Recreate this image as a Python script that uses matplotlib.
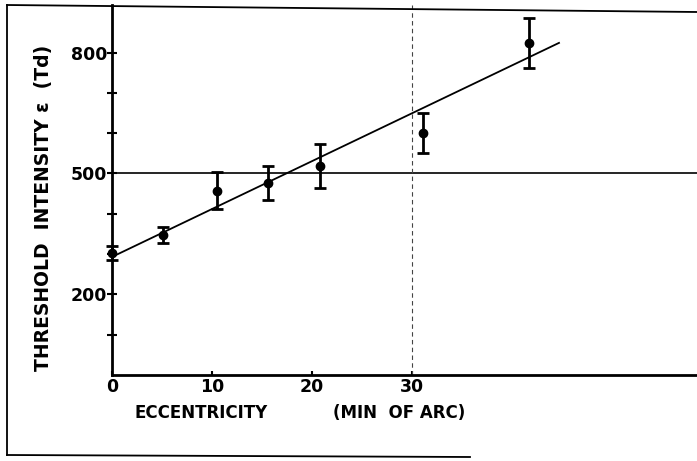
import matplotlib.pyplot as plt
import matplotlib.lines as mlines

plt.rcParams['font.family'] = ['DejaVu Sans']
plt.rcParams['font.weight'] = 'bold'

# data
ecc = [0, 5.1, 10.5, 15.6, 20.8, 31.1, 41.7]
thr = [303, 347, 457, 476, 519, 600, 824]
err = [18, 20, 46, 42, 55, 49, 62]
fit_x = [0, 44.7]
fit_y = [293, 824]

yticks = [100, 200, 300, 400, 500, 600, 700, 800]
ylabels = ['', '200', '', '', '500', '', '', '800']
xticks = [0, 10, 20, 30]

fig = plt.figure(figsize=(6.97, 4.61), dpi=100)
ax = fig.add_axes([112/697, 86/461, 585/697, 370/461])

ax.set_xlim(0, 58.5)
ax.set_ylim(0, 918)

ax.errorbar(ecc, thr, yerr=err, fmt='o', color='black', ms=6,
            elinewidth=2, capsize=4, capthick=2, clip_on=False, zorder=5)
ax.plot(fit_x, fit_y, color='black', lw=1.3, clip_on=False)

ax.axhline(500, color='black', lw=1.2)
ax.axvline(30, color='#444444', lw=0.8, ls=(0, (4, 3)))

for s in ['top', 'right']:
    ax.spines[s].set_visible(False)
ax.spines['left'].set_linewidth(2)
ax.spines['bottom'].set_linewidth(2)

ax.set_yticks(yticks)
ax.set_yticklabels(ylabels, fontsize=12.5, fontweight='bold')
ax.set_xticks(xticks)
ax.set_xticklabels([str(t) for t in xticks], fontsize=12.5, fontweight='bold')
ax.tick_params(axis='y', direction='inout', length=7, width=1.5, pad=0)
ax.tick_params(axis='x', direction='in', length=3, width=1.5, pad=2)

fig.text(44/697, 1 - 208/461, 'THRESHOLD  INTENSITY ε  (Td)', rotation=90,
         ha='center', va='center', fontsize=13.5, fontweight='bold')
fig.text(134/697, 1 - 413/461, 'ECCENTRICITY', ha='left', va='center',
         fontsize=12, fontweight='bold')
fig.text(333/697, 1 - 413/461, '(MIN  OF ARC)', ha='left', va='center',
         fontsize=12, fontweight='bold')

# scanned frame around the figure
W, H = 697.0, 461.0
frame = [([7, 7], [5, 455]), ([7, 697], [5, 12]), ([7, 470], [455, 457])]
for xs, ys in frame:
    fig.add_artist(mlines.Line2D([x / W for x in xs], [1 - y / H for y in ys],
                                 color='black', lw=1.3))

fig.savefig('out.png', dpi=100)
